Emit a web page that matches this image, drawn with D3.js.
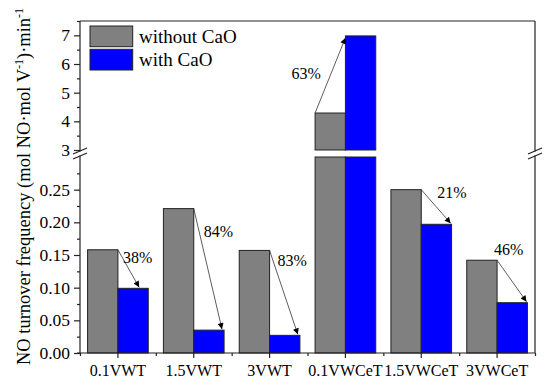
<!DOCTYPE html>
<html>
<head>
<meta charset="utf-8">
<script src="https://cdn.jsdelivr.net/npm/d3@7"></script>
<style>
  body { margin: 0; background: #fff; }
  svg { display: block; }
  svg text { font-family: "Liberation Serif", "DejaVu Serif", serif; }
</style>
</head>
<body>
<svg id="chart" width="550" height="391" font-family="Liberation Serif"></svg>
<script>
// data
const categories = ["0.1VWT", "1.5VWT", "3VWT", "0.1VWCeT", "1.5VWCeT", "3VWCeT"];
const series = ["without CaO", "with CaO"];
const withoutCaO = [0.158, 0.221, 0.157, 4.29, 0.250, 0.142];
const withCaO = [0.099, 0.035, 0.027, 6.98, 0.197, 0.077];
const changeLabels = ["38%", "84%", "83%", "63%", "21%", "46%"];
const lowTicks = [0, 0.05, 0.10, 0.15, 0.20, 0.25];
const highTicks = [3, 4, 5, 6, 7];

// layout of the percentage labels: x offset from the gray bar's right edge, y in data units
const labelPos = [[5, 0.138], [10, 0.177], [8, 0.133], [-54, 5.48], [16, 0.238], [-3, 0.150]];
const arrowEnd = [0.7, 0.93, 0.93, 0, 0.97, 0.97];

const COLORS = ["#808080", "#0000ff"];
const FONT = "Liberation Serif, DejaVu Serif, serif";
const LEFT = 80, RIGHT = 535, TOP = 21, BOTTOM = 353;
const BREAK_HI = 150, BREAK_LO = 157;
const INK = "#222";

const svg = d3.select("#chart");

const x = d3.scaleBand().domain(categories).range([LEFT, RIGHT]);
const x1 = d3.scaleBand().domain(series).range([0, x.bandwidth()]).paddingOuter(0.25);
const yLow = d3.scaleLinear().domain([0, 0.3]).range([BOTTOM, BREAK_LO]);
const yHigh = d3.scaleLinear().domain([3, 7.5]).range([BREAK_HI, TOP]);

const defs = svg.append("defs");
defs.append("marker")
  .attr("id", "head")
  .attr("viewBox", "0 0 10 10")
  .attr("refX", 10).attr("refY", 5)
  .attr("markerWidth", 8).attr("markerHeight", 6)
  .attr("markerUnits", "userSpaceOnUse")
  .attr("orient", "auto")
  .append("path").attr("d", "M0,0L10,5L0,10z").attr("fill", "#000");

// bars
const rows = categories.map((c, i) => ({ cat: c, vals: [withoutCaO[i], withCaO[i]] }));
const barG = svg.append("g");
rows.forEach((r) => {
  r.vals.forEach((v, j) => {
    const bx = x(r.cat) + x1(series[j]);
    if (v <= 0.3) {
      barG.append("rect")
        .attr("x", bx).attr("width", x1.bandwidth())
        .attr("y", yLow(v)).attr("height", yLow(0) - yLow(v))
        .attr("fill", COLORS[j]).attr("stroke", INK).attr("stroke-width", 1);
    } else {
      barG.append("rect")
        .attr("x", bx).attr("width", x1.bandwidth())
        .attr("y", yLow(0.3)).attr("height", yLow(0) - yLow(0.3))
        .attr("fill", COLORS[j]).attr("stroke", INK).attr("stroke-width", 1);
      barG.append("rect")
        .attr("x", bx).attr("width", x1.bandwidth())
        .attr("y", yHigh(v)).attr("height", yHigh(3) - yHigh(v))
        .attr("fill", COLORS[j]).attr("stroke", INK).attr("stroke-width", 1);
    }
  });
});

const yOf = (v) => (v <= 0.3 ? yLow(v) : yHigh(v));

// arrows and labels
const annG = svg.append("g");
rows.forEach((r, i) => {
  const g0 = x(r.cat) + x1(series[0]);
  const b0 = x(r.cat) + x1(series[1]);
  const up = r.vals[1] > r.vals[0];
  const sx = up ? g0 : g0 + x1.bandwidth();
  const ex = b0 + arrowEnd[i] * x1.bandwidth();
  annG.append("line")
    .attr("x1", sx).attr("y1", yOf(r.vals[0]))
    .attr("x2", ex).attr("y2", yOf(r.vals[1]) + (up ? 2 : -1))
    .attr("stroke", "#333").attr("stroke-width", 0.8)
    .attr("marker-end", "url(#head)");
  annG.append("text")
    .attr("x", g0 + x1.bandwidth() + labelPos[i][0])
    .attr("y", yOf(labelPos[i][1]))
    .attr("font-family", FONT)
    .attr("font-size", 16)
    .text(changeLabels[i]);
});

// y axes
const lowAxis = svg.append("g").attr("transform", `translate(${LEFT},0)`)
  .call(d3.axisLeft(yLow).tickValues(lowTicks).tickFormat(d3.format(".2f")).tickSize(6).tickSizeOuter(0).tickPadding(4));
const lowMinor = svg.append("g").attr("transform", `translate(${LEFT},0)`)
  .call(d3.axisLeft(yLow).tickValues(lowTicks.map((d) => d + 0.025)).tickFormat("").tickSize(3).tickSizeOuter(0));
const highAxis = svg.append("g").attr("transform", `translate(${LEFT},0)`)
  .call(d3.axisLeft(yHigh).tickValues(highTicks).tickFormat(d3.format("d")).tickSize(6).tickSizeOuter(0).tickPadding(4));
const highMinor = svg.append("g").attr("transform", `translate(${LEFT},0)`)
  .call(d3.axisLeft(yHigh).tickValues(highTicks.map((d) => d + 0.5)).tickFormat("").tickSize(3).tickSizeOuter(0));

// x axis
const xAxis = svg.append("g").attr("transform", `translate(0,${BOTTOM})`)
  .call(d3.axisBottom(x).tickSize(5).tickSizeOuter(0).tickPadding(7));
const xMinor = svg.append("g").attr("transform", `translate(0,${BOTTOM})`)
  .call(d3.axisBottom(d3.scaleLinear().domain([0, categories.length]).range([LEFT, RIGHT]))
    .ticks(categories.length).tickFormat("").tickSize(3).tickSizeOuter(0));

[lowAxis, lowMinor, highAxis, highMinor, xAxis, xMinor].forEach((g) => {
  g.attr("font-family", FONT);
  g.select(".domain").remove();
  g.selectAll("line").attr("stroke", INK).attr("stroke-width", 1.2);
  g.selectAll("text").attr("font-family", FONT).attr("fill", "#000");
});
[lowAxis, highAxis].forEach((g) => g.selectAll("text").attr("font-size", 17.5));
xAxis.selectAll("text").attr("font-size", 16);

// frame with axis breaks
const frame = svg.append("g").attr("stroke", INK).attr("stroke-width", 1.2).attr("fill", "none");
const gapMid = (BREAK_HI + BREAK_LO) / 2;
[LEFT, RIGHT].forEach((ax) => {
  frame.append("line").attr("x1", ax).attr("x2", ax).attr("y1", TOP).attr("y2", gapMid - 2);
  frame.append("line").attr("x1", ax).attr("x2", ax).attr("y1", gapMid + 2).attr("y2", BOTTOM);
  [-2.5, 2.5].forEach((o) => {
    frame.append("line")
      .attr("x1", ax - 7).attr("y1", gapMid + o + 3)
      .attr("x2", ax + 7).attr("y2", gapMid + o - 3);
  });
});
frame.append("line").attr("x1", LEFT).attr("x2", RIGHT).attr("y1", TOP).attr("y2", TOP);
frame.append("line").attr("x1", LEFT - 3).attr("x2", RIGHT).attr("y1", BOTTOM).attr("y2", BOTTOM);

// legend
const legend = svg.append("g").attr("transform", "translate(90,26)");
series.forEach((s, j) => {
  legend.append("rect")
    .attr("x", 0).attr("y", j * 23.3)
    .attr("width", 42.7).attr("height", 20.7)
    .attr("fill", COLORS[j]).attr("stroke", INK).attr("stroke-width", 1);
  legend.append("text")
    .attr("x", 49).attr("y", j * 23.3 + 17)
    .attr("font-family", FONT)
    .attr("font-size", 19)
    .text(s);
});

// y title
const title = svg.append("text")
  .attr("transform", "translate(30,186.5) rotate(-90)")
  .attr("text-anchor", "middle")
  .attr("font-family", FONT)
  .attr("font-size", 18.5);
title.append("tspan").text("NO turnover frequency (mol NO·mol V");
title.append("tspan").attr("font-size", 12).attr("dy", -7).text("-1");
title.append("tspan").attr("dy", 7).text(")·min");
title.append("tspan").attr("font-size", 12).attr("dy", -7).text("-1");
</script>
</body>
</html>
